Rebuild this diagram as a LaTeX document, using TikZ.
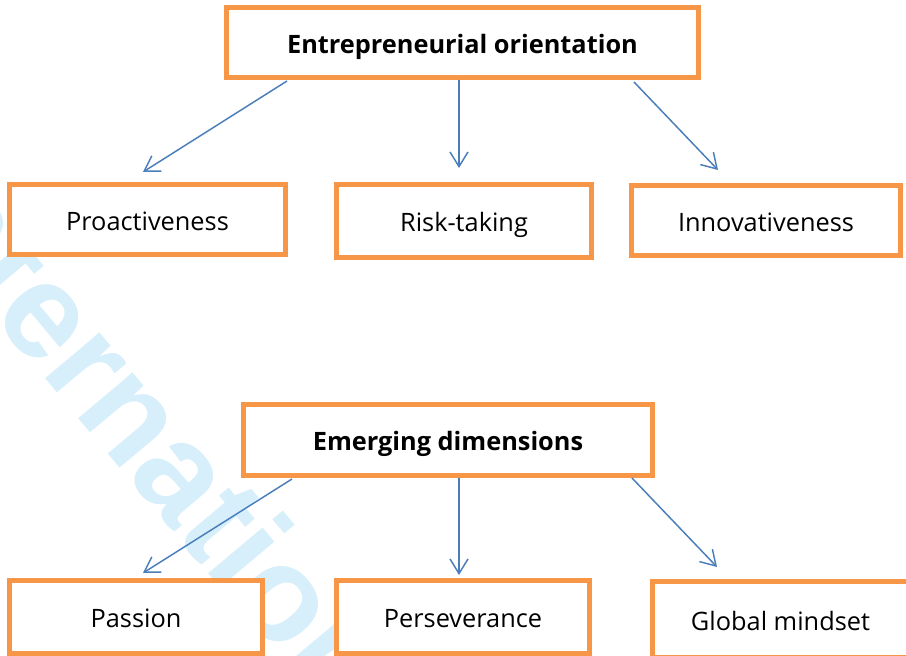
\documentclass[tikz,border=0pt]{standalone}
\usepackage{fontspec}
\setmainfont{Open Sans}
\newfontfamily\wmfont{Liberation Sans}
\usetikzlibrary{arrows.meta,calc}
\definecolor{boxorange}{HTML}{F79646}
\definecolor{arrowblue}{HTML}{4A7EBB}
\definecolor{wmblue}{HTML}{D6EFFB}
\begin{document}
\begin{tikzpicture}[x=0.75pt,y=-0.75pt,
  box/.style={draw=boxorange, line width=3.75pt, fill=white, rectangle, inner sep=0pt,
    text height=17.8pt, text depth=2pt,
    font=\fontsize{19}{23}\selectfont},
  headbox/.style={box, font=\fontsize{19}{23}\selectfont\bfseries},
  arr/.style={draw=arrowblue, line width=1.1pt,
    -{Straight Barb[length=11pt,width=13.5pt]}},
  wm/.style={text=wmblue, inner sep=0pt, anchor=base west, rotate=-50,
    font=\wmfont\bfseries\fontsize{101}{101}\selectfont}]
\useasboundingbox (0,0) rectangle (906,656);
\clip (0,0) rectangle (906,656);
\fill[white] (0,0) rectangle (906,656);
% watermark
\node[wm] (wmark) at (-115,188) {International};
% boxes
\node[headbox, minimum width=354pt, minimum height=52.5pt] (eo) at (462.5,42.5) {Entrepreneurial orientation};
\node[box, minimum width=207pt, minimum height=52.5pt] (pro) at (147.5,219.5) {Proactiveness};
\node[box, minimum width=191.25pt, minimum height=54.75pt] (risk) at (464,221) {Risk-taking};
\node[box, minimum width=201.75pt, minimum height=52.5pt] (inno) at (766,220.5) {Innovativeness};
\node[headbox, minimum width=306.75pt, minimum height=53.25pt] (em) at (448,440) {Emerging dimensions};
\node[box, minimum width=189.75pt, minimum height=54.75pt] (pas) at (136,617) {Passion};
\node[box, minimum width=189.75pt, minimum height=54.75pt] (per) at (463,617) {Perseverance};
\node[box, minimum width=192pt, minimum height=57pt] (glob) at (780.5,619.5) {Global mindset};
% arrows
\draw[arr] ($(eo.south)+(-175.5,1)$) -- ($(pro.north)+(-4.5,-10)$);
\draw[arr] ($(eo.south)+(-3.5,0)$) -- ($(risk.north)+(-5,-14)$);
\draw[arr] ($(eo.south)+(171.5,2)$) -- ($(inno.north)+(-48,-13)$);
\draw[arr] ($(em.south)+(-156,1)$) -- ($(pas.north)+(7,-5)$);
\draw[arr] ($(em.south)+(11,0)$) -- ($(per.north)+(-4,-3)$);
\draw[arr] ($(em.south)+(184,0)$) -- ($(glob.north)+(-63.5,-12)$);
\end{tikzpicture}
\end{document}
